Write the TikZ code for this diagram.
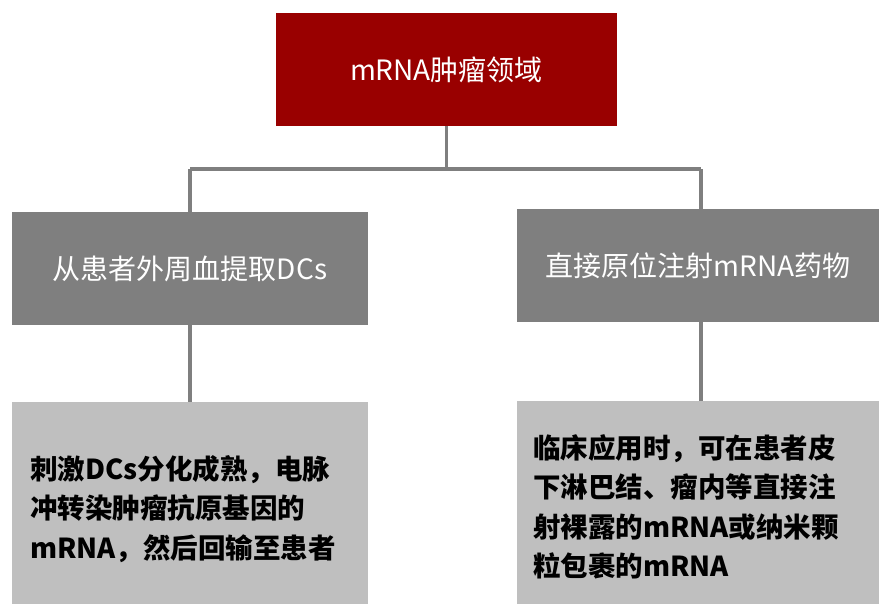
\documentclass[tikz,border=0pt]{standalone}
\usepackage{fontspec}
\setmainfont{Noto Sans CJK SC}
\definecolor{topred}{HTML}{990000}
\definecolor{midgray}{HTML}{7F7F7F}
\definecolor{lowgray}{HTML}{BFBFBF}
\definecolor{linegray}{HTML}{7F7F7F}
\begin{document}
\begin{tikzpicture}[x=1pt,y=-1pt,
  box/.style={rectangle, inner sep=0pt, draw=none, font=\fontsize{28}{39}\selectfont},
  topbox/.style={box, fill=topred, text=white},
  midbox/.style={box, fill=midgray, text=white},
  lowbox/.style={box, fill=lowgray},
  lowtext/.style={inner sep=0pt, align=left, anchor=west, font=\fontsize{27.5}{39.5}\selectfont\bfseries},
  conn/.style={draw=linegray, line width=3.6pt}
]
\useasboundingbox (0,0) rectangle (879,603);
% boxes
\node[topbox, minimum width=341pt, minimum height=113pt] (top) at (446.5,69.5) {mRNA肿瘤领域};
\node[midbox, minimum width=356pt, minimum height=113pt] (lm) at (190,268.5) {从患者外周血提取DCs};
\node[midbox, minimum width=362pt, minimum height=113pt] (rm) at (698,265.5) {直接原位注射mRNA药物};
\node[lowbox, minimum width=356pt, minimum height=210pt] (lb) at (190,507) {};
\node[lowbox, minimum width=362pt, minimum height=210pt] (rb) at (698,506) {};
% texts
\node[lowtext] (lt) at (30,509) {刺激DCs分化成熟，电脉\\冲转染肿瘤抗原基因的\\mRNA，然后回输至患者};
\node[lowtext] (rt) at (533,507) {临床应用时，可在患者皮\\下淋巴结、瘤内等直接注\\射裸露的mRNA或纳米颗\\粒包裹的mRNA};
% connectors
\coordinate (hub) at (446.5,169);
\coordinate (hl) at (190,169);
\coordinate (hr) at (700.7,169);
\draw[conn] (top.south) -- (hub);
\draw[conn] (hl) -- (hr);
\draw[conn] (hl) -- (lm.north);
\draw[conn] (hr) -- (hr |- rm.north);
\draw[conn] (lm.south) -- (lb.north);
\draw[conn] (hr |- rm.south) -- (hr |- rb.north);
\end{tikzpicture}
\end{document}
